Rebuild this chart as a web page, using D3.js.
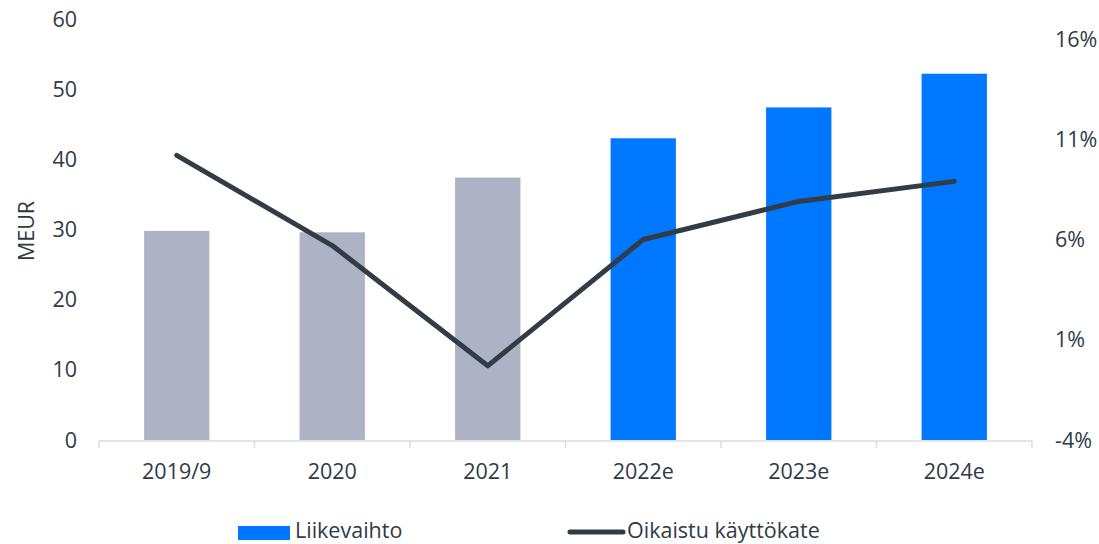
<!DOCTYPE html>
<html><head><meta charset="utf-8">
<script src="https://cdn.jsdelivr.net/npm/d3@7"></script>
<style>
body{margin:0;background:#fff;}
svg{display:block;font-family:"Open Sans",Lato,sans-serif;}
</style></head><body>
<svg id="c" width="1099" height="544"></svg>
<script>
const categories = ["2019/9","2020","2021","2022e","2023e","2024e"];
const revenue = [29.8, 29.6, 37.4, 43.0, 47.4, 52.2];
const estimate = [false,false,false,true,true,true];
const adjEbitda = [10.2, 5.7, -0.3, 6.0, 7.9, 8.9];
const leftTicks = [0,10,20,30,40,50,60];
const rightTicks = [-4,1,6,11,16];
const legendLabels = ["Liikevaihto","Oikaistu käyttökate"];

const svg = d3.select("#c");
const textCol = "#2f3a45";
const fs = 21.5;
const x = d3.scaleBand().domain(categories).range([99,1032]).paddingInner(0.58).paddingOuter(0.29);
const xb = d3.scaleBand().domain(categories).range([99,1032]);
const y = d3.scaleLinear().domain([0,60]).range([440,19]);
const y2 = d3.scaleLinear().domain([-4,17]).range([440,19]);

// bars
svg.append("g").selectAll("rect").data(revenue).join("rect")
  .attr("x",(d,i)=>x(categories[i])).attr("width",x.bandwidth())
  .attr("y",d=>y(d)).attr("height",d=>y(0)-y(d))
  .attr("fill",(d,i)=>estimate[i]?"#0077ff":"#adb3c4");

// x axis
const gx = svg.append("g");
gx.append("line").attr("x1",99).attr("x2",1032).attr("y1",441).attr("y2",441).attr("stroke","#d9dde3").attr("stroke-width",1.5);
const bounds = categories.map(c=>xb(c)).concat([1032]);
gx.selectAll("line.t").data(bounds).join("line").attr("class","t")
  .attr("x1",d=>d).attr("x2",d=>d).attr("y1",441).attr("y2",448).attr("stroke","#d9dde3").attr("stroke-width",1.5);
gx.selectAll("text").data(categories).join("text")
  .attr("x",d=>xb(d)+xb.bandwidth()/2).attr("y",479).attr("text-anchor","middle")
  .attr("font-size",fs).attr("fill",textCol).text(d=>d);

// left axis
svg.append("g").selectAll("text").data(leftTicks).join("text")
  .attr("x",77).attr("y",d=>y(d)+7.5).attr("text-anchor","end")
  .attr("font-size",fs).attr("fill",textCol).text(d=>d);
svg.append("text").attr("transform","translate(34,231) rotate(-90)").attr("text-anchor","middle")
  .attr("font-size",fs).attr("fill",textCol).text("MEUR");

// right axis
svg.append("g").selectAll("text").data(rightTicks).join("text")
  .attr("x",1055).attr("y",d=>y2(d)+7.5).attr("text-anchor","start")
  .attr("font-size",fs).attr("fill",textCol).text(d=>d+"%");

// line
const line = d3.line().x((d,i)=>xb(categories[i])+xb.bandwidth()/2).y(d=>y2(d));
svg.append("path").datum(adjEbitda).attr("d",line).attr("fill","none")
  .attr("stroke","#323c47").attr("stroke-width",5).attr("stroke-linecap","round").attr("stroke-linejoin","round");

// legend
const lg = svg.append("g");
lg.append("rect").attr("x",238).attr("y",526).attr("width",52).attr("height",14).attr("fill","#0077ff");
lg.append("text").attr("x",295).attr("y",538).attr("font-size",21.5).attr("fill",textCol).text(legendLabels[0]);
lg.append("line").attr("x1",570).attr("x2",623).attr("y1",532).attr("y2",532).attr("stroke","#323c47").attr("stroke-width",5).attr("stroke-linecap","round");
lg.append("text").attr("x",627).attr("y",538).attr("font-size",21.5).attr("fill",textCol).text(legendLabels[1]);
</script>
</body></html>
